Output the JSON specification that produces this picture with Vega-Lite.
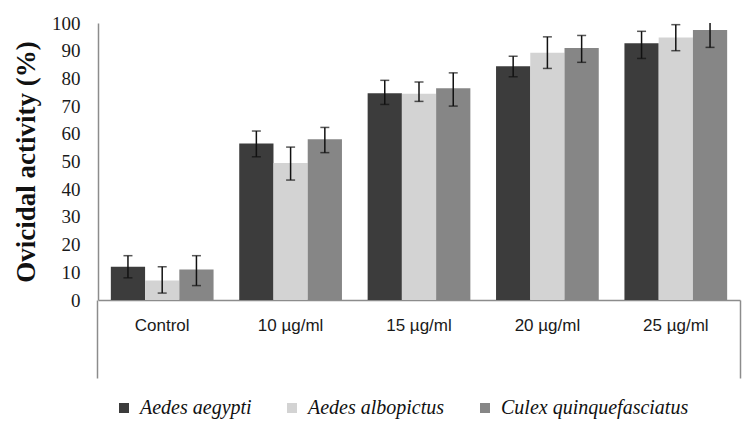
{
  "$schema": "https://vega.github.io/schema/vega-lite/v6.json",
  "width": 642,
  "height": 277,
  "autosize": {"type": "none"},
  "padding": {"left": 98, "top": 23, "right": 10, "bottom": 136},
  "background": "white",
  "config": {
    "view": {"stroke": null},
    "axis": {"grid": false, "domainColor": "#8c8c8c", "labelColor": "#1a1a1a"},
    "legend": {
      "labelFont": "Liberation Serif",
      "labelFontStyle": "italic",
      "labelFontSize": 20,
      "labelColor": "#111111"
    },
    "axisY": {
      "title": "Ovicidal activity (%)",
      "titleFont": "Liberation Serif",
      "titleFontSize": 27,
      "titleFontWeight": "bold",
      "titleColor": "#111111",
      "titlePadding": 11,
      "labelOverlap": false,
      "ticks": false,
      "tickSize": 0,
      "labelPadding": 18,
      "labelFont": "Liberation Serif",
      "labelFontSize": 19,
      "domainColor": "#8c8c8c",
      "domainWidth": 1.5
    }
  },
  "data": {
    "values": [
      {"conc": "Control", "species": "Aedes aegypti", "mean": 12, "lo": 8, "hi": 16},
      {"conc": "Control", "species": "Aedes albopictus", "mean": 7, "lo": 2.5, "hi": 12},
      {"conc": "Control", "species": "Culex quinquefasciatus", "mean": 11, "lo": 5.2, "hi": 16},
      {"conc": "10 µg/ml", "species": "Aedes aegypti", "mean": 56.5, "lo": 51.7, "hi": 61},
      {"conc": "10 µg/ml", "species": "Aedes albopictus", "mean": 49.5, "lo": 43.3, "hi": 55.2},
      {"conc": "10 µg/ml", "species": "Culex quinquefasciatus", "mean": 58, "lo": 53.2, "hi": 62.3},
      {"conc": "15 µg/ml", "species": "Aedes aegypti", "mean": 74.6, "lo": 70.6, "hi": 79.3},
      {"conc": "15 µg/ml", "species": "Aedes albopictus", "mean": 74.5, "lo": 71.7, "hi": 78.7},
      {"conc": "15 µg/ml", "species": "Culex quinquefasciatus", "mean": 76.4, "lo": 70, "hi": 82},
      {"conc": "20 µg/ml", "species": "Aedes aegypti", "mean": 84.4, "lo": 80.6, "hi": 88},
      {"conc": "20 µg/ml", "species": "Aedes albopictus", "mean": 89.3, "lo": 83.6, "hi": 95},
      {"conc": "20 µg/ml", "species": "Culex quinquefasciatus", "mean": 91, "lo": 85.8, "hi": 95.5},
      {"conc": "25 µg/ml", "species": "Aedes aegypti", "mean": 92.7, "lo": 87.2, "hi": 97},
      {"conc": "25 µg/ml", "species": "Aedes albopictus", "mean": 94.8, "lo": 90, "hi": 99.4},
      {"conc": "25 µg/ml", "species": "Culex quinquefasciatus", "mean": 97.5, "lo": 91.2, "hi": 103}
    ]
  },
  "encoding": {
    "x": {
      "field": "conc",
      "type": "nominal",
      "sort": ["Control", "10 µg/ml", "15 µg/ml", "20 µg/ml", "25 µg/ml"],
      "scale": {"paddingInner": 0.2, "paddingOuter": 0.1}
    },
    "xOffset": {
      "field": "species",
      "type": "nominal",
      "sort": ["Aedes aegypti", "Aedes albopictus", "Culex quinquefasciatus"],
      "scale": {"paddingInner": 0, "paddingOuter": 0}
    }
  },
  "layer": [
    {
      "mark": {"type": "bar"},
      "encoding": {
        "x": {
          "field": "conc",
          "type": "nominal",
          "sort": ["Control", "10 µg/ml", "15 µg/ml", "20 µg/ml", "25 µg/ml"],
          "axis": {
            "title": null,
            "labelAngle": 0,
            "ticks": false,
            "tickSize": 0,
            "labelPadding": 17,
            "labelFont": "Liberation Sans",
            "labelFontSize": 17,
            "domainColor": "#8c8c8c",
            "domainWidth": 1.5
          }
        },
        "y": {
          "field": "mean",
          "type": "quantitative",
          "scale": {"domain": [0, 100], "nice": false},
          "axis": {"title": "Ovicidal activity (%)", "values": [0, 10, 20, 30, 40, 50, 60, 70, 80, 90, 100]}
        },
        "color": {
          "field": "species",
          "type": "nominal",
          "sort": ["Aedes aegypti", "Aedes albopictus", "Culex quinquefasciatus"],
          "scale": {"range": ["#3c3c3c", "#d3d3d3", "#868686"]},
          "legend": {
            "title": null,
            "orient": "none",
            "legendX": 16,
            "legendY": 375,
            "direction": "horizontal",
            "symbolType": "square",
            "symbolSize": 100,
            "symbolStrokeWidth": 0,
            "labelFont": "Liberation Serif",
            "labelFontStyle": "italic",
            "labelFontSize": 20,
            "labelLimit": 400,
            "columnPadding": 30,
            "labelOffset": 6
          }
        }
      }
    },
    {
      "mark": {"type": "rule", "color": "#111111", "strokeWidth": 1.5, "clip": true},
      "encoding": {
        "x": {
          "field": "conc",
          "type": "nominal",
          "sort": ["Control", "10 µg/ml", "15 µg/ml", "20 µg/ml", "25 µg/ml"],
          "axis": {
            "orient": "bottom",
            "title": null,
            "values": ["Control"],
            "bandPosition": -0.125,
            "labels": false,
            "domain": false,
            "ticks": true,
            "tickSize": 78,
            "tickColor": "#8c8c8c",
            "tickWidth": 1.5
          }
        },
        "y": {
          "field": "lo",
          "type": "quantitative",
          "axis": {"title": "Ovicidal activity (%)", "values": [0, 10, 20, 30, 40, 50, 60, 70, 80, 90, 100]}
        },
        "y2": {"field": "hi"}
      }
    },
    {
      "mark": {"type": "tick", "color": "#111111", "thickness": 1.5, "size": 9},
      "encoding": {
        "x": {
          "field": "conc",
          "type": "nominal",
          "sort": ["Control", "10 µg/ml", "15 µg/ml", "20 µg/ml", "25 µg/ml"],
          "axis": {
            "orient": "bottom",
            "title": null,
            "values": ["25 µg/ml"],
            "bandPosition": 1.125,
            "labels": false,
            "domain": false,
            "ticks": true,
            "tickSize": 78,
            "tickColor": "#8c8c8c",
            "tickWidth": 1.5
          }
        },
        "y": {
          "field": "lo",
          "type": "quantitative",
          "axis": {"title": "Ovicidal activity (%)", "values": [0, 10, 20, 30, 40, 50, 60, 70, 80, 90, 100]}
        }
      }
    },
    {
      "transform": [{"filter": "datum.hi <= 100"}],
      "mark": {"type": "tick", "color": "#111111", "thickness": 1.5, "size": 9},
      "encoding": {
        "x": {
          "field": "conc",
          "type": "nominal",
          "sort": ["Control", "10 µg/ml", "15 µg/ml", "20 µg/ml", "25 µg/ml"],
          "axis": null
        },
        "y": {
          "field": "hi",
          "type": "quantitative",
          "axis": {"title": "Ovicidal activity (%)", "values": [0, 10, 20, 30, 40, 50, 60, 70, 80, 90, 100]}
        }
      }
    }
  ],
  "resolve": {"axis": {"x": "independent"}}
}
